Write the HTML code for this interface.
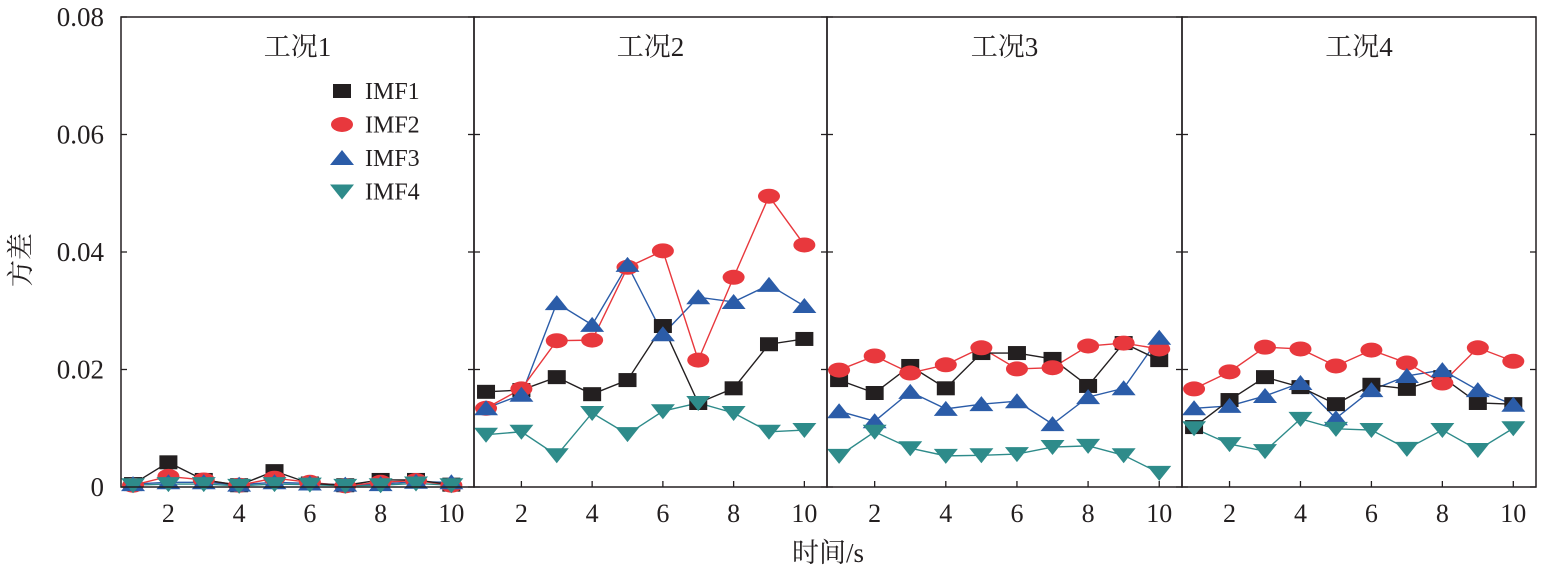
<!DOCTYPE html>
<html><head><meta charset="utf-8"><style>
html,body{margin:0;padding:0;background:#fff;}
svg text{font-family:"Liberation Serif","Noto Serif CJK SC",serif;fill:#231f20;}
</style></head><body>
<svg id="chart" width="1546" height="573" viewBox="0 0 1546 573" xmlns="http://www.w3.org/2000/svg"></svg>
<script>
const times=[1,2,3,4,5,6,7,8,9,10];
const panelTitles=["工况1","工况2","工况3","工况4"];
const seriesNames=["IMF1","IMF2","IMF3","IMF4"];
const yTicks=[0,0.02,0.04,0.06,0.08];
const yTickLabels=["0","0.02","0.04","0.06","0.08"];
const xTicks=[2,4,6,8,10];
const imf1=[[0.0005,0.0042,0.0012,0.0003,0.0027,0.0006,0.0003,0.0012,0.0012,0.0004],
[0.0162,0.0165,0.0187,0.0158,0.0182,0.0274,0.0143,0.0168,0.0243,0.0252],
[0.0182,0.016,0.0206,0.0168,0.0228,0.0228,0.0218,0.0172,0.0245,0.0216],
[0.0102,0.0148,0.0187,0.017,0.0141,0.0174,0.0167,0.0187,0.0143,0.0141]];
const imf2=[[0.0003,0.0018,0.0012,0.0003,0.0015,0.0008,0.0002,0.0008,0.0011,0.0003],
[0.0134,0.0167,0.0249,0.025,0.0374,0.0402,0.0216,0.0357,0.0495,0.0412],
[0.0199,0.0223,0.0194,0.0208,0.0237,0.0201,0.0203,0.024,0.0245,0.0235],
[0.0167,0.0196,0.0238,0.0235,0.0206,0.0233,0.0211,0.0177,0.0237,0.0214]];
const imf3=[[0.0005,0.0008,0.0008,0.0004,0.0008,0.0006,0.0004,0.0005,0.0009,0.0008],
[0.0134,0.0157,0.0313,0.0276,0.0378,0.026,0.0323,0.0315,0.0344,0.0308],
[0.0129,0.0112,0.0162,0.0133,0.0141,0.0146,0.0107,0.0153,0.0168,0.0254],
[0.0134,0.0138,0.0155,0.0177,0.0117,0.0165,0.0189,0.0199,0.0165,0.014]];
const imf4=[[0.0003,0.0005,0.0005,0.0002,0.0005,0.0004,0.0002,0.0003,0.0006,0.0003],
[0.0089,0.0094,0.0054,0.0126,0.009,0.0129,0.0143,0.0126,0.0094,0.0097],
[0.0053,0.0094,0.0066,0.0053,0.0054,0.0056,0.0068,0.007,0.0054,0.0024],
[0.01,0.0073,0.0061,0.0116,0.0099,0.0097,0.0065,0.0097,0.0063,0.01]];
const allSeries=[imf1,imf2,imf3,imf4];
const colors=["#231f20","#e8383d","#2b5ca8","#2e8b8a"];
const NS="http://www.w3.org/2000/svg";
const svg=document.getElementById('chart');
const panelX=[121,474,827,1182,1536];
const plotTop=17,plotBottom=487;
function y(v){return plotBottom-(v/0.08)*(plotBottom-plotTop);}
function xs(p,t){const l=panelX[p],r=panelX[p+1];return l+(t-0.66)/(10.64-0.66)*(r-l);}
function mk(tag,attrs,parent){const e=document.createElementNS(NS,tag);for(const k in attrs)e.setAttribute(k,attrs[k]);(parent||svg).appendChild(e);return e;}
function marker(s,cx,cy,g){
 if(s===0)return mk('rect',{x:cx-9,y:cy-7,width:18,height:14,fill:colors[0]},g);
 if(s===1)return mk('ellipse',{cx:cx,cy:cy,rx:11,ry:7.5,fill:colors[1]},g);
 if(s===2)return mk('polygon',{points:`${cx-12},${cy+7} ${cx+12},${cy+7} ${cx},${cy-8}`,fill:colors[2]},g);
 return mk('polygon',{points:`${cx-12},${cy-7} ${cx+12},${cy-7} ${cx},${cy+8}`,fill:colors[3]},g);
}
for(let p=0;p<4;p++){
 const g=mk('g',{});
 
 
 const l=panelX[p],r=panelX[p+1];
 for(const v of yTicks){
  mk('line',{x1:l,x2:l+6,y1:y(v),y2:y(v),stroke:'#231f20','stroke-width':1.3},g);
  mk('line',{x1:r-6,x2:r,y1:y(v),y2:y(v),stroke:'#231f20','stroke-width':1.3},g);
 }
 xTicks.forEach(t=>{
  mk('line',{x1:xs(p,t),x2:xs(p,t),y1:plotBottom,y2:plotBottom-6,stroke:'#231f20','stroke-width':1.3},g);
  const tx=mk('text',{x:xs(p,t),y:522,'font-size':26,'text-anchor':'middle'},g);
  tx.textContent=t;
  
  
 });
 const tt=mk('text',{x:(l+r)/2,y:56,'font-size':27,'text-anchor':'middle'},g);
 tt.textContent=panelTitles[p];
 
 
 for(let s=3;s>=0;s--){
  const d=allSeries[s][p];
  const pts=times.map((t,i)=>xs(p,t)+','+y(d[i])).join(' ');
  const ln=mk('polyline',{points:pts,fill:'none',stroke:colors[s],'stroke-width':1.4},g);
  
  
 }
 for(let s=0;s<4;s++){
  const d=allSeries[s][p];
  times.forEach((t,i)=>{
   const m=marker(s,xs(p,t),y(d[i]),g);
   
   
  });
 }
 const fr=mk('rect',{x:l,y:plotTop,width:r-l,height:plotBottom-plotTop,fill:'none',stroke:'#231f20','stroke-width':1.5},g);
 
 
}
yTicks.forEach((v,i)=>{
 const t=mk('text',{x:104,y:y(v)+9,'font-size':27,'text-anchor':'end'});
 t.textContent=yTickLabels[i];
 
 
});
const leg=mk('g',{});


seriesNames.forEach((n,s)=>{
 const cy=91+s*33.5;
 const m=marker(s,342,cy,leg);
 
 
 const t=mk('text',{x:365,y:cy+8,'font-size':24},leg);
 t.textContent=n;
 
 
});
const yl=mk('text',{x:30,y:260,'font-size':27,'text-anchor':'middle',transform:'rotate(-90 30 260)'});
yl.textContent='方差';


const xl=mk('text',{x:828,y:562,'font-size':27,'text-anchor':'middle'});
xl.textContent='时间/s';


</script>
</body></html>
